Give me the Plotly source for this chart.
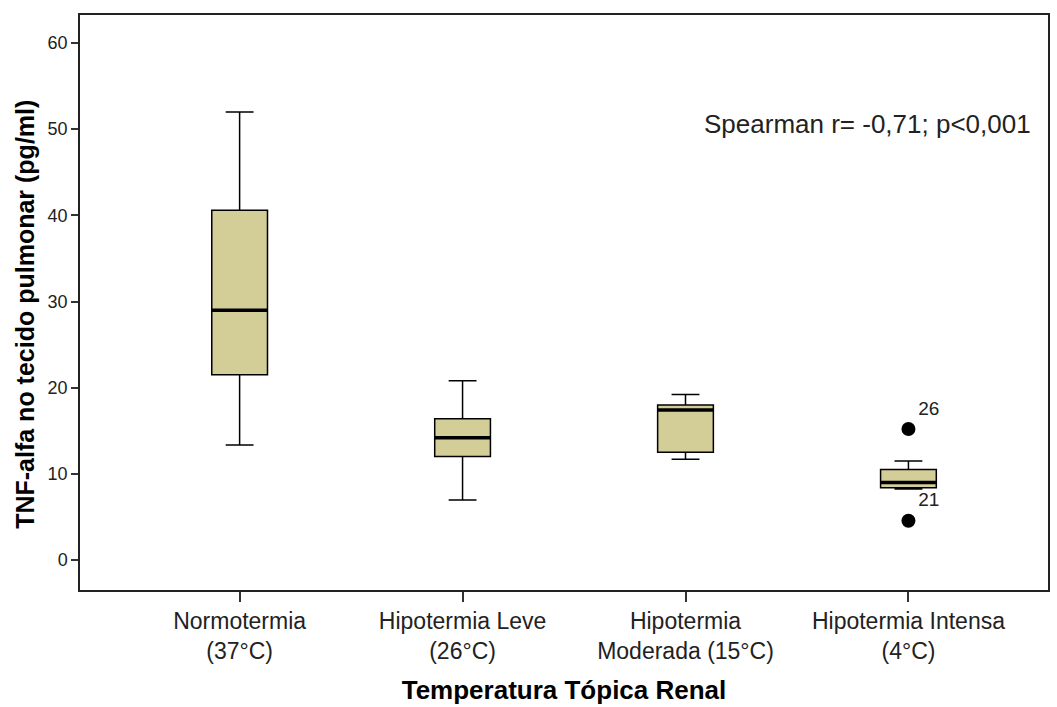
import plotly.graph_objects as go

categories = ["Normotermia<br>(37°C)", "Hipotermia Leve<br>(26°C)",
              "Hipotermia<br>Moderada (15°C)", "Hipotermia Intensa<br>(4°C)"]
q1 = [21.5, 12.0, 12.5, 8.4]
median = [29.0, 14.2, 17.4, 9.0]
q3 = [40.6, 16.4, 18.0, 10.5]
lower_whisker = [13.35, 6.96, 11.7, 8.25]
upper_whisker = [52.0, 20.8, 19.2, 11.5]

outlier_group = [3, 3]
outlier_values = [15.2, 4.56]
outlier_labels = ["26", "21"]

fill = "#D3CD98"
xs = list(range(len(categories)))
box_w = 0.25

fig = go.Figure()
fig.add_trace(go.Box(
    x=xs, q1=q1, median=median, q3=q3,
    lowerfence=lower_whisker, upperfence=upper_whisker,
    fillcolor=fill, line=dict(color="black", width=1.5),
    width=box_w, whiskerwidth=0.5, boxpoints=False, showlegend=False,
    hoverinfo="skip"))

# thicker median lines
mx, my = [], []
for i, m in zip(xs, median):
    mx += [i - box_w / 2, i + box_w / 2, None]
    my += [m, m, None]
fig.add_trace(go.Scatter(x=mx, y=my, mode="lines",
                         line=dict(color="black", width=3.5),
                         showlegend=False, hoverinfo="skip"))

fig.add_trace(go.Scatter(
    x=outlier_group, y=outlier_values, mode="markers+text",
    marker=dict(color="black", size=14),
    text=outlier_labels, textposition="top right",
    textfont=dict(family="Liberation Sans, Arial", size=19, color="#222"),
    showlegend=False, hoverinfo="skip"))

fig.add_annotation(text="Spearman r= -0,71; p<0,001", xref="paper", yref="paper",
                   x=0.984, y=0.81, xanchor="right", yanchor="middle",
                   showarrow=False,
                   font=dict(family="Liberation Sans, Arial", size=26, color="#222"))

fig.add_annotation(text="<b>TNF-alfa no tecido pulmonar (pg/ml)</b>",
                   xref="paper", yref="paper", x=-0.057, y=0.48,
                   xanchor="center", yanchor="middle", textangle=-90,
                   showarrow=False,
                   font=dict(family="Liberation Sans, Arial", size=25, color="black"))

fig.update_layout(
    width=1057, height=707,
    margin=dict(l=80, r=7, t=15, b=117),
    paper_bgcolor="white", plot_bgcolor="white",
    font=dict(family="Liberation Sans, Arial", color="#222"),
    xaxis=dict(
        tickmode="array", tickvals=xs, ticktext=categories,
        range=[-0.716, 3.626],
        showgrid=False, zeroline=False,
        ticks="outside", ticklen=10, tickcolor="#333", tickwidth=1.5,
        showline=True, linecolor="#222", linewidth=1.5, mirror=True,
        tickfont=dict(size=23, family="Liberation Sans, Arial", color="#222"),
        title=dict(text="<b>Temperatura Tópica Renal</b>",
                   font=dict(size=26, family="Liberation Sans, Arial", color="black"),
                   standoff=18),
    ),
    yaxis=dict(
        range=[-3.48, 63.25],
        tickvals=[0, 10, 20, 30, 40, 50, 60],
        showgrid=False, zeroline=False,
        ticks="outside", ticklen=7, tickcolor="#333", tickwidth=1.5,
        showline=True, linecolor="#222", linewidth=1.5, mirror=True,
        tickfont=dict(size=18, color="#222"),
    ),
)

fig.write_html("out.html")
